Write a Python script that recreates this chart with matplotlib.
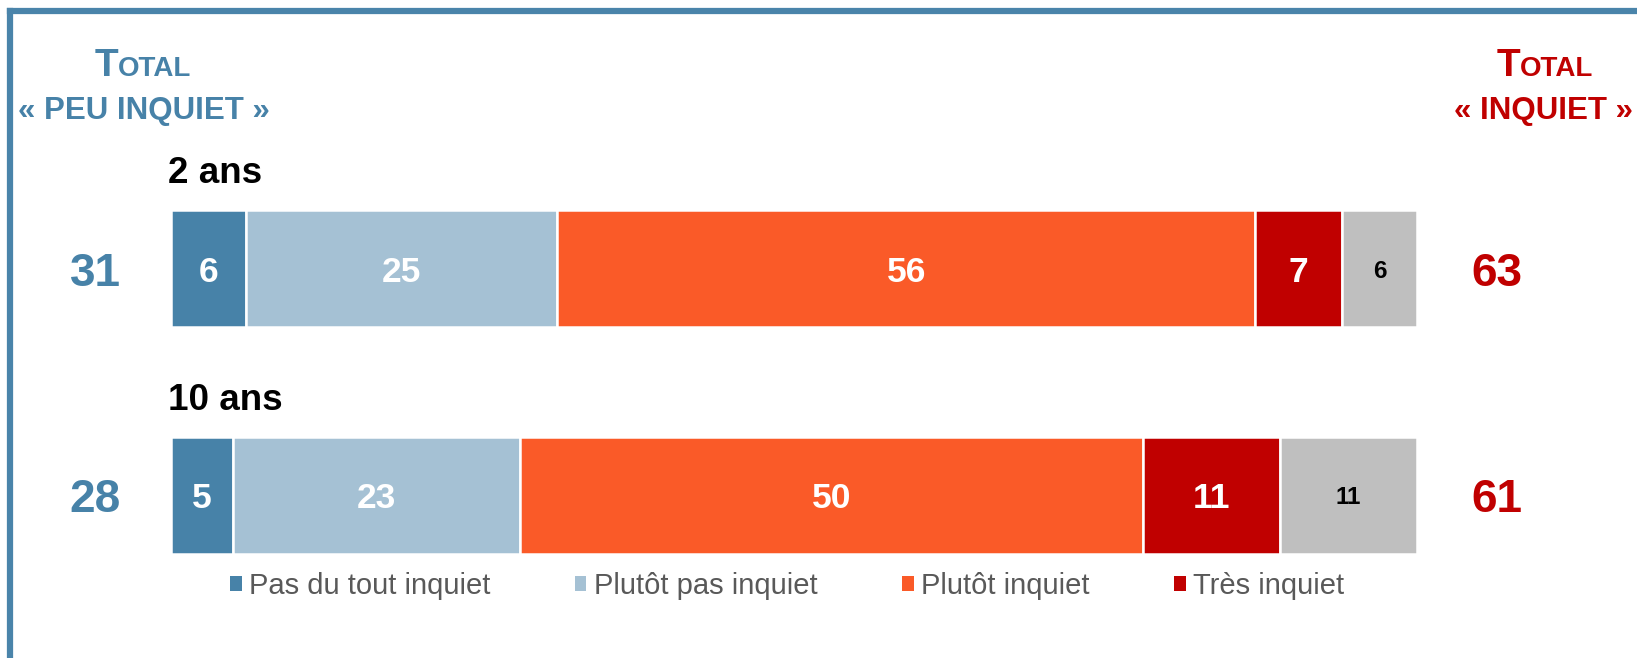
import matplotlib
matplotlib.use("Agg")
import matplotlib.pyplot as plt
from matplotlib.patches import Patch

plt.rcParams['font.family'] = ['Liberation Sans', 'DejaVu Sans']

# data
categories = ["2 ans", "10 ans"]
pas_du_tout = [6, 5]
plutot_pas = [25, 23]
plutot = [56, 50]
tres = [7, 11]
nsp = [6, 11]
total_peu = [31, 28]
total_inquiet = [63, 61]
legend_labels = ["Pas du tout inquiet", "Plutôt pas inquiet",
                 "Plutôt inquiet", "Très inquiet"]

BLUE = "#4782A8"
LIGHT = "#A5C1D4"
ORANGE = "#FA5A28"
RED = "#C00000"
GREY = "#BFBFBF"
series = [pas_du_tout, plutot_pas, plutot, tres, nsp]
colors = [BLUE, LIGHT, ORANGE, RED, GREY]

W, H = 1637, 658
fig = plt.figure(figsize=(W / 100, H / 100), dpi=100)

# pixel-coordinate layer for texts and frame
tax = fig.add_axes([0, 0, 1, 1])
tax.set_xlim(0, W)
tax.set_ylim(H, 0)
tax.axis("off")

# bar layer
ax = fig.add_axes([171 / W, 0, 1246 / W, 1])
ax.set_xlim(0, 100)
ax.set_ylim(H, 0)
ax.axis("off")

y_pos = [268.5, 495]
bar_h = 117
left = [0, 0]
for vals, col in zip(series, colors):
    ax.barh(y_pos, vals, left=left, height=bar_h, color=col,
            edgecolor="white", linewidth=1.8)
    for i, v in enumerate(vals):
        if col == GREY:
            ax.text(left[i] + v / 2, y_pos[i], str(v), ha="center",
                    va="center_baseline", fontsize=17.5, fontweight="bold",
                    color="black")
        else:
            ax.text(left[i] + v / 2, y_pos[i], str(v), ha="center",
                    va="center_baseline", fontsize=25.5, fontweight="bold",
                    color="white")
    left = [l + v for l, v in zip(left, vals)]

# category titles and totals
for i, cat in enumerate(categories):
    tax.text(168, y_pos[i] - 85.5, cat, ha="left", va="baseline",
             fontsize=26.5, fontweight="bold", color="black")
    tax.text(95, y_pos[i], str(total_peu[i]), ha="center",
             va="center_baseline", fontsize=33, fontweight="bold", color=BLUE)
    tax.text(1497, y_pos[i], str(total_inquiet[i]), ha="center",
             va="center_baseline", fontsize=33, fontweight="bold", color=RED)

# small caps headers
renderer = fig.canvas.get_renderer()


def small_caps(xc, yb, color):
    t1 = tax.text(0, yb, "T", fontsize=28, fontweight="bold", color=color,
                  ha="left", va="baseline")
    t2 = tax.text(0, yb, "OTAL", fontsize=20, fontweight="bold", color=color,
                  ha="left", va="baseline")
    w1 = t1.get_window_extent(renderer).width
    w2 = t2.get_window_extent(renderer).width
    x0 = xc - (w1 + w2) / 2
    t1.set_x(x0)
    t2.set_x(x0 + w1)


small_caps(143, 76, BLUE)
small_caps(1545, 76, RED)
tax.text(144, 119, "« PEU INQUIET »", ha="center", va="baseline",
         fontsize=22.5, fontweight="bold", color=BLUE)
tax.text(1544, 119, "« INQUIET »", ha="center", va="baseline",
         fontsize=22.5, fontweight="bold", color=RED)

# frame
tax.plot([10, 10], [H + 10, 10.5], color="#4A84AA", lw=4.5,
         solid_capstyle="projecting", clip_on=False)
tax.plot([10, W + 10], [10.5, 10.5], color="#4A84AA", lw=4.5,
         solid_capstyle="projecting", clip_on=False)

# legend
handles = [Patch(facecolor=c, edgecolor="none") for c in colors[:4]]
fig.legend(handles, legend_labels, loc="center",
           bbox_to_anchor=(787 / W, 1 - 586 / H), ncol=4, frameon=False,
           fontsize=21, labelcolor="#595959", handlelength=0.4,
           handleheight=0.45, handletextpad=0.25, columnspacing=2.9)

fig.savefig("out.png", dpi=100)
